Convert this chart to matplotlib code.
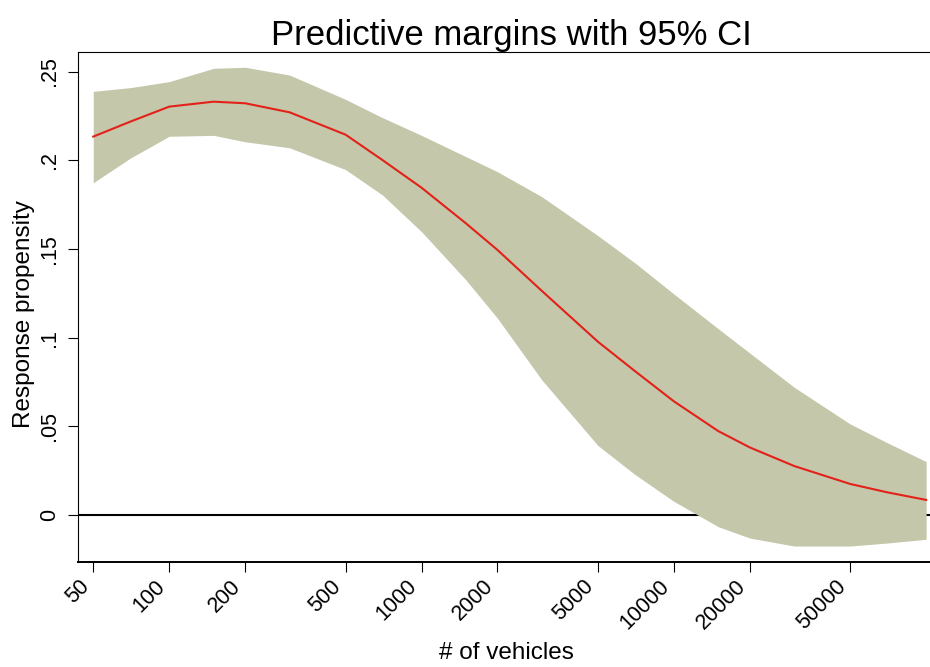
import numpy as np
import matplotlib.pyplot as plt
from matplotlib.ticker import FixedLocator, FixedFormatter, NullLocator

plt.rcParams['font.family'] = ['Liberation Sans', 'DejaVu Sans']

# values (predictive margins, log x)
vehicles = [50, 70, 100, 150, 200, 300, 500, 700, 1000, 1500, 2000, 3000,
            5000, 7000, 10000, 15000, 20000, 30000, 50000, 70000, 100000]
margin = [0.2133, 0.2217, 0.2302, 0.2330, 0.2321, 0.2270, 0.2144, 0.2001,
          0.1845, 0.1644, 0.1494, 0.1263, 0.0977, 0.0812, 0.0641, 0.0473,
          0.0381, 0.0276, 0.0175, 0.0128, 0.0085]
ci_upper = [0.2388, 0.2409, 0.2443, 0.2518, 0.2524, 0.2480, 0.2343, 0.2240,
            0.2140, 0.2020, 0.1935, 0.1794, 0.1575, 0.1422, 0.1246, 0.1050,
            0.0913, 0.0720, 0.0513, 0.0408, 0.0301]
ci_lower = [0.1873, 0.2011, 0.2135, 0.2140, 0.2104, 0.2070, 0.1947, 0.1804,
            0.1597, 0.1325, 0.1109, 0.0761, 0.0392, 0.0229, 0.0077, -0.0066,
            -0.0130, -0.0175, -0.0175, -0.0158, -0.0137]

xticks = [50, 100, 200, 500, 1000, 2000, 5000, 10000, 20000, 50000]
xtick_labels = ["50", "100", "200", "500", "1000", "2000", "5000", "10000", "20000", "50000"]
yticks = [0, 0.05, 0.1, 0.15, 0.2, 0.25]
ytick_labels = ["0", ".05", ".1", ".15", ".2", ".25"]

fig = plt.figure(figsize=(9.3, 6.67), dpi=100)
ax = fig.add_axes([78/930, 1-562/667, (944-78)/930, (562-52)/667])

ax.axhline(0, color="black", linewidth=1.5, zorder=1)
ax.fill_between(vehicles, ci_lower, ci_upper, color="#C4C7AA", linewidth=0, zorder=2)
ax.plot(vehicles, margin, color="#E32119", linewidth=1.5, zorder=3)

ax.set_xscale("log")
ax.set_xlim(43.5, 117700)
ax.set_ylim(-0.0265, 0.261)

ax.xaxis.set_major_locator(FixedLocator(xticks))
ax.xaxis.set_major_formatter(FixedFormatter(xtick_labels))
ax.xaxis.set_minor_locator(NullLocator())
ax.set_yticks(yticks)
ax.set_yticklabels(ytick_labels, rotation=90, va="center")

for lab in ax.get_xticklabels():
    lab.set_rotation(45)
    lab.set_ha("right")

ax.tick_params(axis="x", labelsize=15.5, length=7, width=0.8, pad=3)
ax.tick_params(axis="y", labelsize=15.5, length=7, width=0.8, pad=6)

ax.spines["right"].set_visible(False)
ax.spines["left"].set_linewidth(0.8)
ax.spines["top"].set_linewidth(0.8)
ax.spines["bottom"].set_linewidth(1.4)

ax.set_title("Predictive margins with 95% CI", fontsize=25, pad=5)
ax.set_xlabel("# of vehicles", fontsize=17.5)
ax.set_ylabel("Response propensity", fontsize=17.5)
ax.xaxis.set_label_coords(0.5 - 5/866, -(642 - 562)/510, transform=ax.transAxes)
ax.xaxis.label.set_va("top")
ax.yaxis.set_label_coords(-(78 - 35)/866, 0.5 - 7/510, transform=ax.transAxes)

fig.savefig("out.png", dpi=100)
